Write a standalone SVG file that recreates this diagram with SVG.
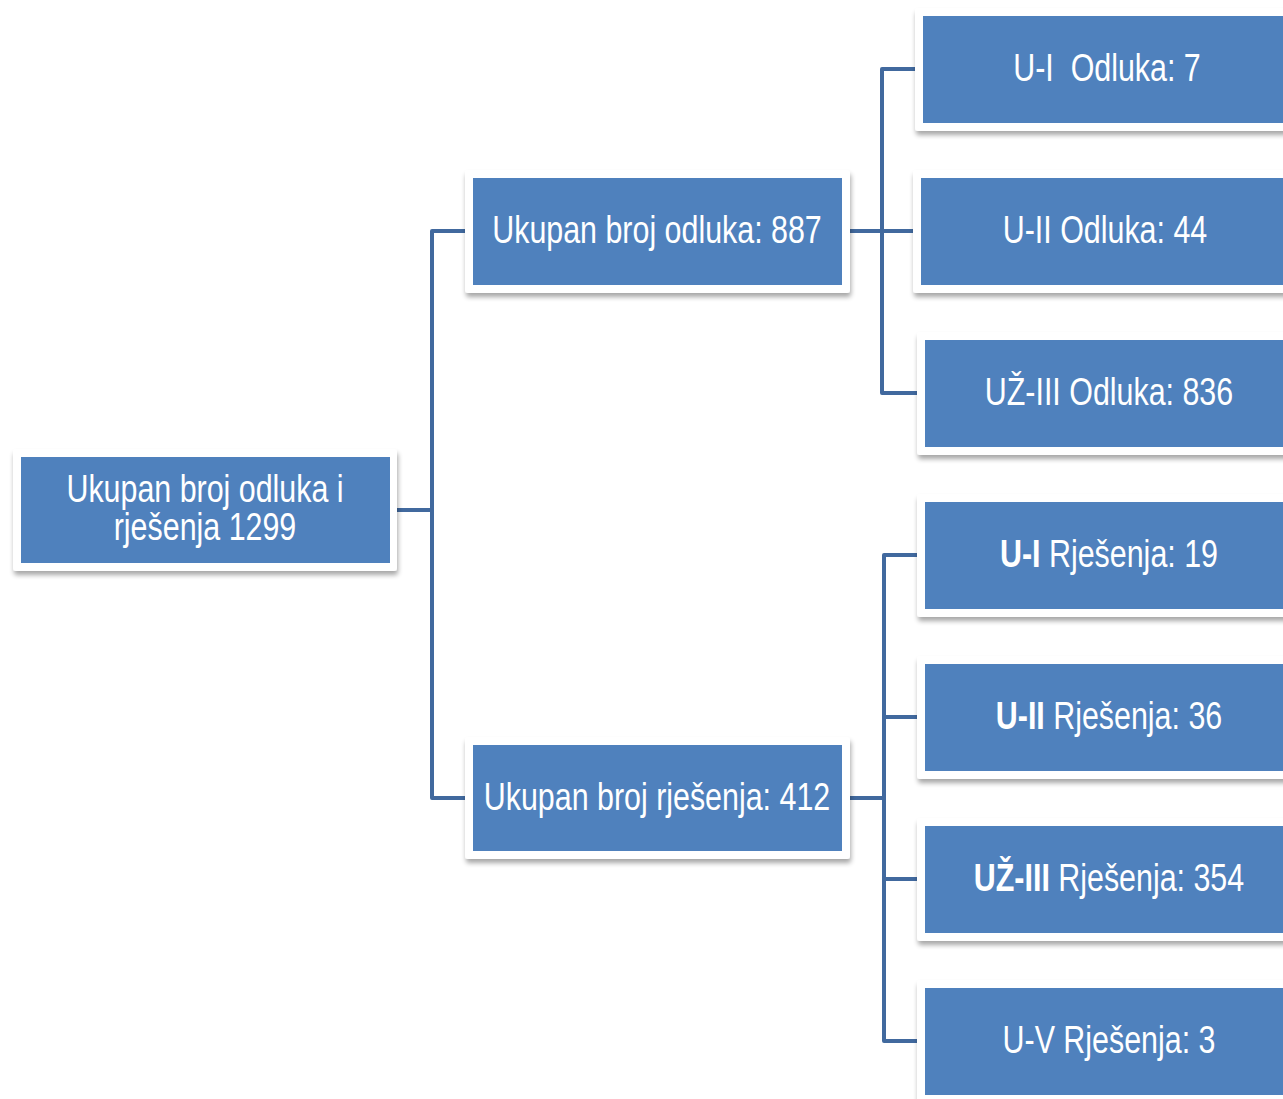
<svg xmlns="http://www.w3.org/2000/svg" width="1283" height="1099" viewBox="0 0 1283 1099">
<defs>
<filter id="sh" x="-10%" y="-20%" width="120%" height="150%">
<feGaussianBlur in="SourceAlpha" stdDeviation="2.5"/>
<feOffset dx="1" dy="4" result="b"/>
<feComponentTransfer><feFuncA type="linear" slope="0.35"/></feComponentTransfer>
<feMerge><feMergeNode/><feMergeNode in="SourceGraphic"/></feMerge>
</filter>
</defs>
<style>
.frame{fill:#ffffff;filter:url(#sh);}
.box{fill:#4F81BD;}
.t{font-family:"Liberation Sans",Arial,sans-serif;font-size:38px;fill:#ffffff;text-anchor:middle;}
.b{font-weight:bold;}
.c{fill:none;stroke:#41699E;stroke-width:4;stroke-linejoin:round;}
</style>
<rect width="1283" height="1099" fill="#ffffff"/>
<g id="connectors">
<path class="c" d="M397,510 H432 M465,231 H432 V798 H465"/>
<path class="c" d="M850,231 H915 M915,69 H882 V393 H917"/>
<path class="c" d="M850,798 H884 M917,555 H884 V1041 H917 M884,717 H917 M884,879 H917"/>
</g>
<g id="root">
<rect class="frame" x="13" y="449" width="384" height="122" rx="3"/>
<rect class="box" x="21" y="457" width="369" height="106"/>
<text class="t" transform="translate(205,502) scale(0.8,1)">Ukupan broj odluka i</text>
<text class="t" transform="translate(205,540) scale(0.8,1)">rješenja 1299</text>
</g>
<g id="mid1">
<rect class="frame" x="465" y="170" width="385" height="123" rx="3"/>
<rect class="box" x="473" y="178" width="369" height="107"/>
<text class="t" transform="translate(657,243) scale(0.8,1)">Ukupan broj odluka: 887</text>
</g>
<g id="mid2">
<rect class="frame" x="465" y="737" width="385" height="122" rx="3"/>
<rect class="box" x="473" y="745" width="369" height="106"/>
<text class="t" transform="translate(657,810) scale(0.8,1)">Ukupan broj rješenja: 412</text>
</g>
<g id="leaf1">
<rect class="frame" x="915" y="8" width="385" height="123" rx="3"/>
<rect class="box" x="923" y="16" width="369" height="107"/>
<text class="t" transform="translate(1107,81) scale(0.8,1)" xml:space="preserve">U-I  Odluka: 7</text>
</g>
<g id="leaf2">
<rect class="frame" x="913" y="170" width="385" height="123" rx="3"/>
<rect class="box" x="921" y="178" width="369" height="107"/>
<text class="t" transform="translate(1105,243) scale(0.8,1)">U-II Odluka: 44</text>
</g>
<g id="leaf3">
<rect class="frame" x="917" y="332" width="385" height="123" rx="3"/>
<rect class="box" x="925" y="340" width="369" height="107"/>
<text class="t" transform="translate(1109,405) scale(0.8,1)">UŽ-III Odluka: 836</text>
</g>
<g id="leaf4">
<rect class="frame" x="917" y="494" width="385" height="123" rx="3"/>
<rect class="box" x="925" y="502" width="369" height="107"/>
<text class="t" transform="translate(1109,567) scale(0.8,1)"><tspan class="b">U-I</tspan> Rješenja: 19</text>
</g>
<g id="leaf5">
<rect class="frame" x="917" y="656" width="385" height="123" rx="3"/>
<rect class="box" x="925" y="664" width="369" height="107"/>
<text class="t" transform="translate(1109,729) scale(0.8,1)"><tspan class="b">U-II</tspan> Rješenja: 36</text>
</g>
<g id="leaf6">
<rect class="frame" x="917" y="818" width="385" height="123" rx="3"/>
<rect class="box" x="925" y="826" width="369" height="107"/>
<text class="t" transform="translate(1109,891) scale(0.8,1)"><tspan class="b">UŽ-III</tspan> Rješenja: 354</text>
</g>
<g id="leaf7">
<rect class="frame" x="917" y="980" width="385" height="123" rx="3"/>
<rect class="box" x="925" y="988" width="369" height="107"/>
<text class="t" transform="translate(1109,1053) scale(0.8,1)">U-V Rješenja: 3</text>
</g>
</svg>
